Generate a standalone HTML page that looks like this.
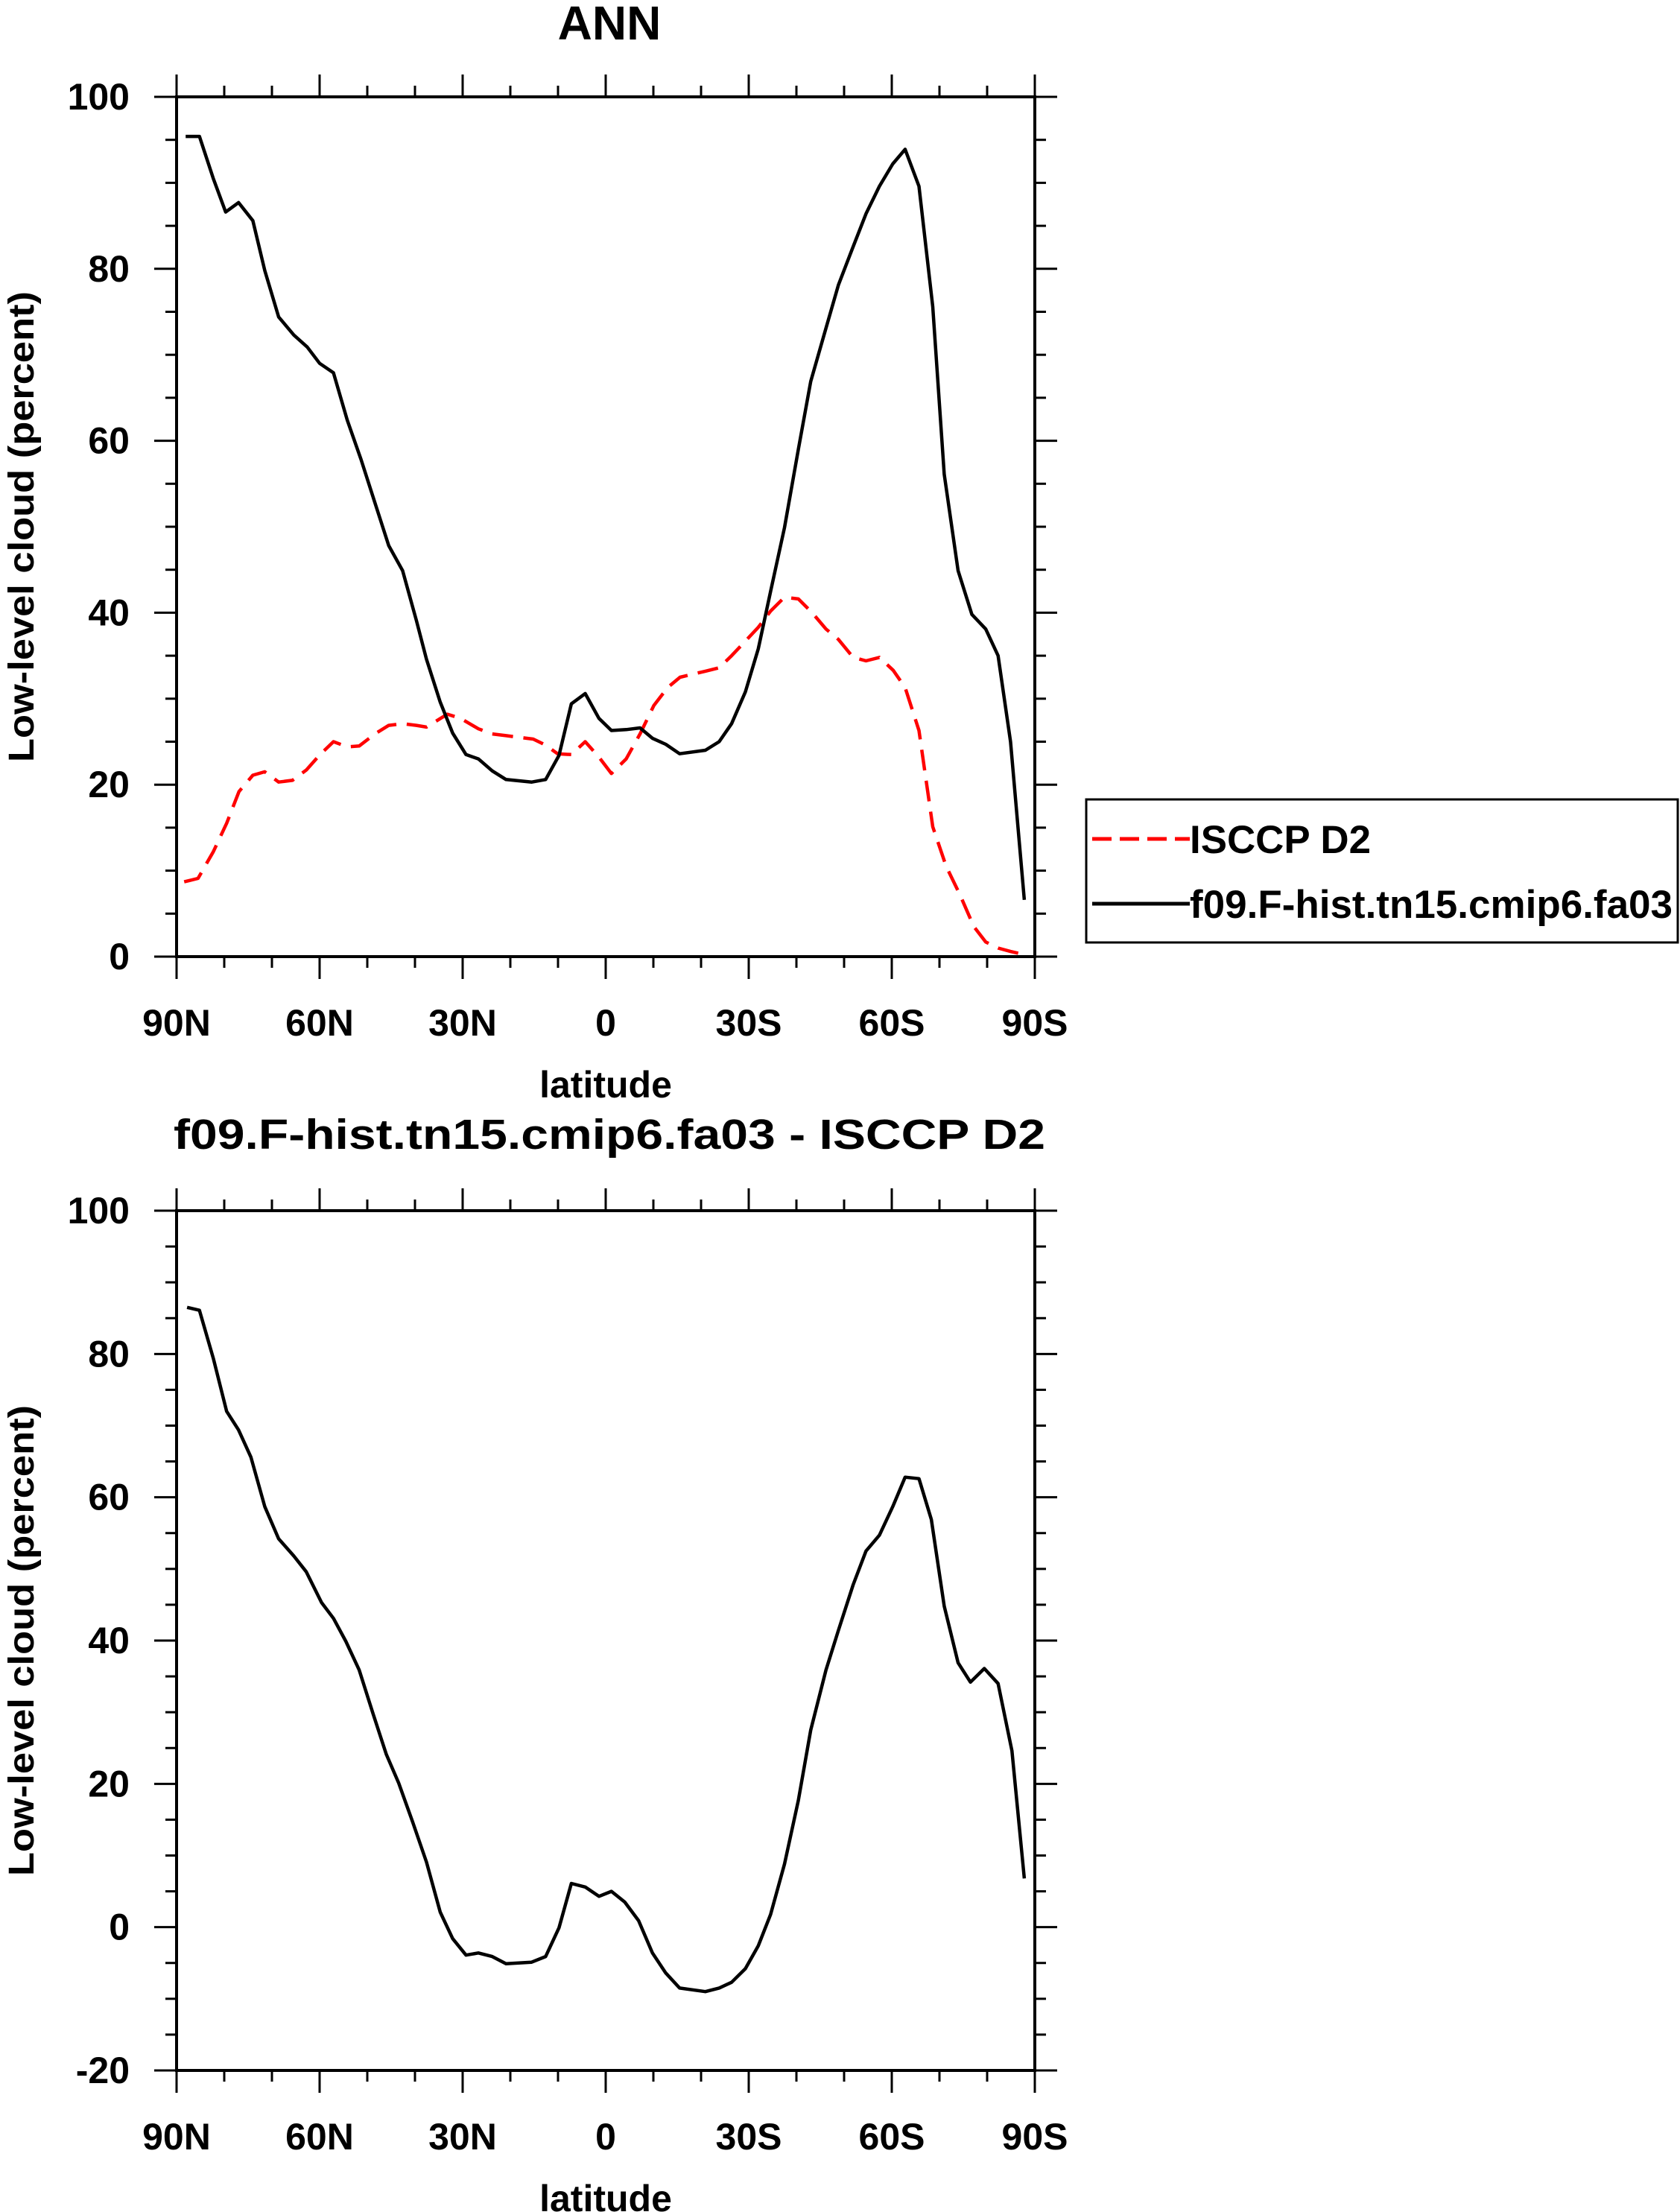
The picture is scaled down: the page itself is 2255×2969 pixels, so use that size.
<!DOCTYPE html>
<html><head><meta charset="utf-8"><style>
html,body{margin:0;padding:0;background:#fff}
svg{display:block}
text{font-family:"Liberation Sans",sans-serif;font-weight:bold;fill:#000}
</style></head><body>
<svg id="chart" width="2255" height="2969" viewBox="0 0 2255 2969" xmlns="http://www.w3.org/2000/svg"></svg>
<script>
// Top panel: model series
const modelLat = [88.1,85.2,82.3,79.7,77.0,74.0,71.5,68.6,65.4,62.6,60.0,57.1,54.2,51.3,48.4,45.5,42.6,39.7,37.6,34.7,32.1,29.3,26.7,23.8,20.9,15.5,12.6,9.8,7.2,4.3,1.4,-1.2,-4.3,-7.2,-9.8,-12.6,-15.5,-20.9,-23.8,-26.4,-29.3,-32.0,-34.6,-37.5,-40.4,-43.0,-46.2,-48.8,-51.7,-54.6,-57.4,-60.2,-62.8,-65.7,-68.6,-71.0,-73.9,-76.8,-79.7,-82.3,-84.9,-87.8];
const modelVal = [95.4,95.4,90.5,86.6,87.7,85.6,79.8,74.4,72.3,70.9,69.0,67.9,62.4,57.8,52.8,47.8,44.9,39.1,34.6,29.6,26.0,23.5,23.0,21.6,20.6,20.3,20.6,23.4,29.4,30.6,27.7,26.3,26.4,26.6,25.4,24.7,23.6,24.0,25.0,27.1,30.8,35.8,42.5,49.9,59.0,66.9,73.1,78.1,82.3,86.4,89.6,92.2,93.9,89.6,75.6,56.1,44.9,39.8,38.1,35.0,25.0,6.6];
// Top panel: observation series
const obsLat = [88.4,85.5,82.3,79.5,76.9,74.0,71.5,68.6,65.7,62.8,59.9,57.1,54.2,51.7,48.4,45.5,42.6,39.7,37.6,33.2,30.4,26.7,23.8,20.9,15.2,12.6,10.1,7.2,4.3,1.4,-1.2,-4.3,-7.2,-10.1,-13.0,-15.6,-20.9,-23.8,-26.4,-29.3,-32.0,-34.6,-37.5,-40.4,-43.3,-46.2,-48.8,-51.9,-54.6,-57.4,-60.3,-62.8,-65.7,-68.6,-71.4,-74.3,-77.2,-79.7,-82.3,-84.9,-88.1];
const obsVal = [8.7,9.1,12.2,15.5,19.2,21.1,21.5,20.3,20.5,21.7,23.5,25.0,24.4,24.5,25.9,26.9,27.1,26.9,26.7,28.2,27.7,26.5,25.9,25.7,25.3,24.6,23.6,23.5,25.0,23.2,21.3,23.0,25.9,29.2,31.3,32.5,33.2,33.6,35.0,36.7,38.3,40.2,41.8,41.6,40.0,38.1,36.9,34.8,34.4,34.8,33.3,31.3,26.3,15.1,10.5,7.2,3.5,1.7,1.0,0.6,0.2];
// Bottom panel: difference series
const diffLat = [87.8,85.2,82.3,79.5,77.0,74.4,71.5,68.6,65.4,62.8,59.6,57.1,54.5,51.7,48.8,46.0,43.4,40.5,37.6,34.7,32.1,29.3,26.7,23.8,20.9,15.6,12.6,9.8,7.2,4.3,1.4,-1.2,-4.0,-6.9,-9.8,-12.6,-15.5,-20.9,-23.8,-26.4,-29.3,-32.0,-34.6,-37.5,-40.4,-43.0,-46.2,-48.8,-51.9,-54.6,-57.4,-60.2,-62.8,-65.7,-68.3,-71.0,-73.9,-76.5,-79.4,-82.3,-85.2,-87.8];
const diffVal = [86.5,86.1,79.4,72.0,69.4,65.6,58.7,54.2,51.8,49.6,45.3,43.1,39.9,35.9,29.8,24.1,20.1,14.7,9.1,2.1,-1.6,-3.9,-3.6,-4.1,-5.1,-4.9,-4.1,-0.1,6.1,5.6,4.3,5.0,3.5,0.9,-3.6,-6.4,-8.5,-9.0,-8.5,-7.7,-5.8,-2.6,1.8,8.8,17.7,27.5,35.9,41.4,47.8,52.5,54.7,58.7,62.8,62.6,56.9,44.8,36.9,34.2,36.1,34.0,24.6,6.8];
const xTicks = [90,60,30,0,-30,-60,-90];
const xTickLabels = ["90N","60N","30N","0","30S","60S","90S"];
const yTicksTop = [0,20,40,60,80,100];
const yTicksBot = [-20,0,20,40,60,80,100];

const NS="http://www.w3.org/2000/svg";
const svg=document.getElementById('chart');
function mk(tag,attrs,parent){const e=document.createElementNS(NS,tag);for(const k in attrs)e.setAttribute(k,attrs[k]);(parent||svg).appendChild(e);return e;}

function panel(name,top,ymin,ymax,yTicks,title,titleSize,titleLen,series){
  const L=237,R=1389,T=top,B=top+1154;
  const g=mk('g',{});
  
  
  const xs=lat=>L+(90-lat)/180*(R-L);
  const ys=v=>B-(v-ymin)/(ymax-ymin)*(B-T);
  for(let lat=90;lat>=-90;lat-=10){
    const x=xs(lat);const major=(lat%30===0);const len=major?30:15;
    const t1=mk('line',{x1:x,x2:x,y1:B,y2:B+len,stroke:'#000','stroke-width':3},g);
    
    
    const t2=mk('line',{x1:x,x2:x,y1:T,y2:T-len,stroke:'#000','stroke-width':3},g);
    
    
  }
  for(let v=ymin;v<=ymax;v+=5){
    const y=ys(v);const major=(v%20===0);const len=major?30:15;
    const t1=mk('line',{x1:L,x2:L-len,y1:y,y2:y,stroke:'#000','stroke-width':3},g);
    
    
    const t2=mk('line',{x1:R,x2:R+len,y1:y,y2:y,stroke:'#000','stroke-width':3},g);
    
    
  }
  const frame=mk('rect',{x:L,y:T,width:R-L,height:B-T,fill:'none',stroke:'#000','stroke-width':4},g);
  
  
  xTicks.forEach((lat,i)=>{
    const t=mk('text',{x:xs(lat),y:B+106,'font-size':50,'text-anchor':'middle'},g);
    t.textContent=xTickLabels[i];
    
    
  });
  yTicks.forEach(v=>{
    const t=mk('text',{x:174,y:ys(v)+17,'font-size':50,'text-anchor':'end'},g);
    t.textContent=String(v);
    
    
  });
  const xl=mk('text',{x:813,y:B+189,'font-size':50,'text-anchor':'middle'},g);
  xl.textContent='latitude';
  
  
  const cy=(T+B)/2;
  const yl=mk('text',{x:0,y:0,'font-size':48,'text-anchor':'middle',textLength:632,lengthAdjust:'spacingAndGlyphs',transform:`translate(45,${cy}) rotate(-90)`},g);
  yl.textContent='Low-level cloud (percent)';
  
  
  const tt=mk('text',{x:818,y:T-(title==='ANN'?77:83),'font-size':titleSize,'text-anchor':'middle'},g);
  if(titleLen){tt.setAttribute('textLength',titleLen);tt.setAttribute('lengthAdjust','spacingAndGlyphs');}
  tt.textContent=title;
  
  
  series.forEach(s=>{
    const pts=s.lat.map((la,i)=>xs(la).toFixed(1)+','+ys(s.val[i]).toFixed(1)).join(' ');
    const p=mk('polyline',{points:pts,fill:'none',stroke:s.color,'stroke-width':4.5,'stroke-linejoin':'round','stroke-dasharray':s.dash||'none'},g);
    
    
  });
}
panel('top-panel',130,0,100,yTicksTop,'ANN',64,null,[
  {lat:obsLat,val:obsVal,color:'#ff0000',dash:'28,14',name:'isccp-d2-line'},
  {lat:modelLat,val:modelVal,color:'#000',name:'model-line'}]);
panel('bottom-panel',1625,-20,100,yTicksBot,'f09.F-hist.tn15.cmip6.fa03 - ISCCP D2',57,1170,[
  {lat:diffLat,val:diffVal,color:'#000',name:'difference-line'}]);

// legend
const lg=mk('g',{});


const lb=mk('rect',{x:1458,y:1073,width:794,height:192,fill:'#fff',stroke:'#000','stroke-width':3},lg);


const l1=mk('line',{x1:1466,x2:1597,y1:1126,y2:1126,stroke:'#ff0000','stroke-width':5,'stroke-dasharray':'26,11'},lg);


const t1=mk('text',{x:1597,y:1145,'font-size':53,textLength:243,lengthAdjust:'spacingAndGlyphs'},lg);
t1.textContent='ISCCP D2';


const l2=mk('line',{x1:1466,x2:1597,y1:1213,y2:1213,stroke:'#000','stroke-width':5},lg);


const t2=mk('text',{x:1597,y:1232,'font-size':53,textLength:648,lengthAdjust:'spacingAndGlyphs'},lg);
t2.textContent='f09.F-hist.tn15.cmip6.fa03';


</script>
</body></html>
